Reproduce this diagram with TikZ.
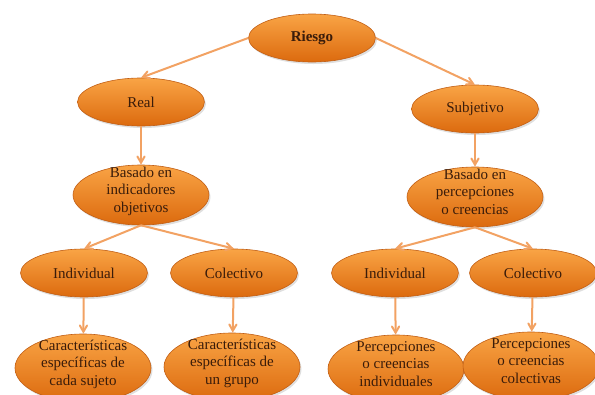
\documentclass[tikz,border=0pt]{standalone}
\usepackage{fontspec}
\setmainfont{Liberation Serif}
\usepackage{tikz}
\usetikzlibrary{shapes.geometric, arrows, shadows}
\definecolor{ovaltop}{HTML}{F9A445}
\definecolor{ovalmid}{HTML}{F5821E}
\definecolor{ovalbot}{HTML}{DC6A0E}
\definecolor{ovaledge}{HTML}{C15E14}
\definecolor{ovaltext}{HTML}{3A1C0A}
\definecolor{linkcol}{HTML}{F2A263}
\newcommand{\ovtxt}[1]{\smash{\begin{tabular}{@{}c@{}}#1\end{tabular}}}
\tikzstyle{oval} = [ellipse, minimum width=127pt, minimum height=48pt, inner sep=0pt, draw=ovaledge, line width=0.6pt, top color=ovaltop, middle color=ovalmid, bottom color=ovalbot, text=ovaltext, font=\rmfamily\fontsize{15}{17.5}\selectfont, drop shadow={opacity=0.25, shadow xshift=1.5pt, shadow yshift=-2pt}]
\tikzstyle{bigoval} = [oval, minimum width=136pt, minimum height=60pt]
\tikzstyle{leafoval} = [oval, minimum width=136pt, minimum height=68pt]
\tikzstyle{arrow} = [->, >=angle 60, line width=2pt, draw=linkcol]

\begin{document}
\begin{tikzpicture}[x=1pt, y=-1pt]
\clip (0,0) rectangle (595,394);

\node (riesgo) [oval] at (312,38) {\textbf{Riesgo}};
\node (real) [oval] at (141,102) {Real};
\node (subjetivo) [oval] at (475,109) {Subjetivo};
\node (basadoreal) [bigoval] at (141,195) {\ovtxt{Basado en\\indicadores\\objetivos}};
\node (basadosubj) [bigoval] at (475,197) {\ovtxt{Basado en\\percepciones\\o creencias}};
\node (indreal) [oval] at (84,273) {Individual};
\node (colreal) [oval] at (234,273) {Colectivo};
\node (indsubj) [oval] at (395,273) {Individual};
\node (colsubj) [oval] at (533,273) {Colectivo};
\node (sujeto) [leafoval] at (83,368) {\ovtxt{Características\\específicas de\\cada sujeto}};
\node (grupo) [leafoval] at (232,367) {\ovtxt{Características\\específicas de\\un grupo}};
\node (percind) [leafoval] at (396,369) {\ovtxt{Percepciones\\o creencias\\individuales}};
\node (perccol) [leafoval] at (531,366) {\ovtxt{Percepciones\\o creencias\\colectivas}};

\draw [arrow] (riesgo.west) -- (real.north);
\draw [arrow] (riesgo.east) -- (subjetivo.north);
\draw [arrow] (real) -- (basadoreal);
\draw [arrow] (subjetivo) -- (basadosubj);
\draw [arrow] (basadoreal.south) -- (indreal.north);
\draw [arrow] (basadoreal.south) -- (colreal.north);
\draw [arrow] (basadosubj.south) -- (indsubj.north);
\draw [arrow] (basadosubj.south) -- (colsubj.north);
\draw [arrow] (indreal) -- (sujeto);
\draw [arrow] (colreal) -- (grupo);
\draw [arrow] (indsubj) -- (percind);
\draw [arrow] (colsubj) -- (perccol);

\end{tikzpicture}
\end{document}
